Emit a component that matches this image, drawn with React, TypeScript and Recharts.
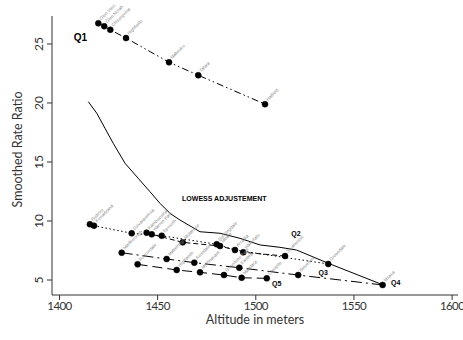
import { ComposedChart, Line, XAxis, YAxis, ReferenceDot } from "recharts";

// quintile groups of suburbs: altitude (m) vs smoothed rate ratio
const q1Names = ["Glen View", "Glen Norah", "Chitungwiza", "Highfields", "Mabvuku", "Tafara", "Hatfield"];
const q1Altitude = [1419.8, 1422.8, 1425.9, 1433.9, 1455.8, 1470.7, 1504.7];
const q1Ratio = [26.75, 26.5, 26.2, 25.5, 23.45, 22.35, 19.9];

const q2Names = ["Kambuzuma", "Warren Park", "Mufakose", "Mbare", "Waterfalls", "Southerton"];
const q2Altitude = [1444.4, 1447.0, 1462.8, 1481.8, 1493.6, 1514.9];
const q2Ratio = [9.01, 8.87, 8.19, 7.88, 7.35, 7.03];

const q3Names = ["Budiriro", "Kuwadzana", "Dzivarasekwa", "Epworth", "Sunningdale", "Arcadia", "Greendale"];
const q3Altitude = [1415.5, 1417.6, 1436.8, 1452.1, 1480.1, 1489.4, 1536.9];
const q3Ratio = [9.72, 9.6, 8.96, 8.75, 8.03, 7.54, 6.36];

const q4Names = ["Marlborough", "Mabelreign", "Avondale", "Eastlea", "Belvedere", "Msasa"];
const q4Altitude = [1431.7, 1454.6, 1468.7, 1491.6, 1521.6, 1564.6];
const q4Ratio = [7.31, 6.78, 6.47, 6.04, 5.42, 4.58];

const q5Names = ["Borrowdale", "Highlands", "Mt Pleasant", "Greystone Park", "Mandara", "Chisipite"];
const q5Altitude = [1439.8, 1459.7, 1471.6, 1483.8, 1492.8, 1505.6];
const q5Ratio = [6.33, 5.85, 5.65, 5.42, 5.19, 5.14];

const lowessAltitude = [1414.7, 1419.0, 1423.2, 1427.4, 1433.4, 1440.1, 1446.1, 1451.2, 1456.3, 1461.4, 1471.6, 1481.8, 1492.0, 1502.2, 1512.3, 1520.8, 1536.9, 1564.9];
const lowessRatio = [20.11, 19.13, 17.86, 16.58, 14.89, 13.62, 12.48, 11.5, 10.65, 10.08, 9.09, 8.96, 8.53, 7.97, 7.77, 7.54, 6.42, 4.58];

const xTicks = [1400, 1450, 1500, 1550, 1600];
const yTicks = [5, 10, 15, 20, 25];

const rows = (xs: number[], ys: number[], names?: string[]) =>
  xs.map((x, i) => ({ x, y: ys[i], name: names ? names[i] : "" }));

const FONT = "Lato, 'Open Sans', sans-serif";
const BOLD = "'Liberation Sans', Arial, sans-serif";

const series = [
  { key: "Q1", data: rows(q1Altitude, q1Ratio, q1Names), dash: "7 3 1.5 3 1.5 3", anchor: 0, dx: -18, dy: 18, size: 10 },
  { key: "Q2", data: rows(q2Altitude, q2Ratio, q2Names), dash: "5 3", anchor: -1, dx: 11, dy: -20, size: 7 },
  { key: "Q3", data: rows(q3Altitude, q3Ratio, q3Names), dash: "1.5 2.5", anchor: -1, dx: -5, dy: 11, size: 7 },
  { key: "Q4", data: rows(q4Altitude, q4Ratio, q4Names), dash: "11 4 2 4", anchor: -1, dx: 13, dy: 0, size: 7 },
  { key: "Q5", data: rows(q5Altitude, q5Ratio, q5Names), dash: "10 5", anchor: -1, dx: 10, dy: 8, size: 7 },
];

const pointLabel = (s: (typeof series)[number]) => (p: any) => {
  const { x, y, index } = p;
  const anchorIdx = s.anchor < 0 ? s.data.length - 1 : s.anchor;
  const name = s.data[index]?.name ?? "";
  return (
    <g key={`${s.key}-${index}`}>
      <text
        x={x + 3}
        y={y - 3}
        transform={`rotate(-45 ${x + 3} ${y - 3})`}
        fontSize={4.5}
        style={{ fill: "#8a8a8a" }}
        fontFamily={BOLD}
      >
        {name}
      </text>
      {index === anchorIdx && (
        <text
          x={x + s.dx}
          y={y + s.dy}
          textAnchor="middle"
          fontSize={s.size}
          fontWeight={700}
          style={{ fill: "#000" }}
          fontFamily={BOLD}
        >
          {s.key}
        </text>
      )}
    </g>
  );
};

const YTick = ({ x, y, payload }: any) => (
  <text
    x={x - 2}
    y={y}
    transform={`rotate(-90 ${x - 2} ${y})`}
    textAnchor="middle"
    fontSize={12}
    fill="#333"
    fontFamily={FONT}
  >
    {payload.value}
  </text>
);

export default function App() {
  return (
    <div style={{ position: "absolute", left: 0, top: 0, width: 463, height: 340, background: "#fff" }}>
      <ComposedChart width={463} height={340} margin={{ top: 16, right: 5, left: 0, bottom: 0 }}>
        <XAxis
          type="number"
          dataKey="x"
          domain={[1396.2, 1603]}
          ticks={xTicks}
          allowDataOverflow
          height={45}
          stroke="#333"
          tickSize={5}
          tickMargin={2}
          tick={{ fill: "#333", fontSize: 11.5, fontFamily: FONT, letterSpacing: -0.6 }}
          label={{
            content: ({ viewBox }: any) => (
              <text
                x={viewBox.x + viewBox.width / 2}
                y={viewBox.y + 29}
                textAnchor="middle"
                fontSize={12.5}
                fill="#333"
                fontFamily={FONT}
              >
                Altitude in meters
              </text>
            ),
          }}
        />
        <YAxis
          type="number"
          dataKey="y"
          domain={[3.73, 27.37]}
          ticks={yTicks}
          allowDataOverflow
          width={52}
          stroke="#333"
          tickSize={5}
          tickMargin={2}
          tick={<YTick />}
          label={{
            content: ({ viewBox }: any) => {
              const cy = viewBox.y + viewBox.height / 2 - 6;
              return (
                <text
                  x={22}
                  y={cy}
                  transform={`rotate(-90 22 ${cy})`}
                  textAnchor="middle"
                  fontSize={12.5}
                  fill="#333"
                  fontFamily={FONT}
                >
                  Smoothed Rate Ratio
                </text>
              );
            },
          }}
        />
        <Line
          data={rows(lowessAltitude, lowessRatio)}
          dataKey="y"
          type="linear"
          stroke="#000"
          strokeWidth={1}
          dot={false}
          activeDot={false}
          isAnimationActive={false}
        />
        {series.map((s) => (
          <Line
            key={s.key}
            data={s.data}
            dataKey="y"
            type="linear"
            stroke="#000"
            strokeWidth={1}
            strokeDasharray={s.dash}
            dot={{ r: 3, fill: "#000", stroke: "#000", strokeWidth: 0.5, strokeDasharray: "" }}
            activeDot={false}
            label={pointLabel(s)}
            isAnimationActive={false}
          />
        ))}
        <ReferenceDot
          x={1484}
          y={11.9}
          r={0}
          stroke="none"
          fill="none"
          label={{ value: "LOWESS ADJUSTEMENT", position: "center", fontSize: 7, fontWeight: 700, fill: "#000", fontFamily: BOLD }}
        />
      </ComposedChart>
    </div>
  );
}
